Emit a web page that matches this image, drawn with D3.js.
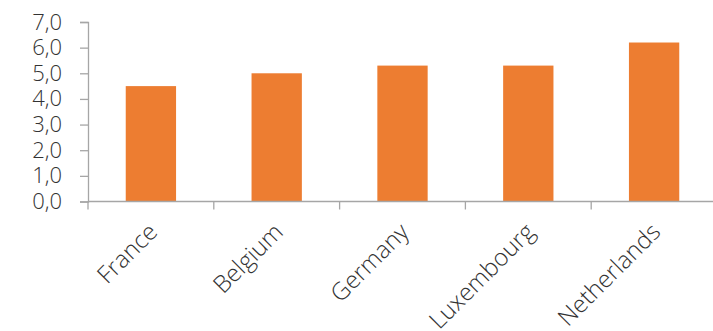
<!DOCTYPE html>
<html>
<head>
<meta charset="utf-8">
<script src="https://cdn.jsdelivr.net/npm/d3@7"></script>
<style>
  body { margin: 0; background: #fff; }
  text { font-family: "Open Sans", sans-serif; font-weight: 300; }
</style>
</head>
<body>
<svg></svg>
<script>
var width = 713,
    height = 331;

// data
var countries = ["France", "Belgium", "Germany", "Luxembourg", "Netherlands"];
var values = [4.5, 5.0, 5.3, 5.3, 6.2];
var yTicks = [0, 1, 2, 3, 4, 5, 6, 7];

var margin = { left: 88, top: 22, right: -4, bottom: 130 };

var svg = d3.select("svg")
    .attr("width", width)
    .attr("height", height);

var x = d3.scaleBand()
    .domain(countries)
    .range([margin.left, width - margin.right])
    .padding(0);

var y = d3.scaleLinear()
    .domain([0, 7])
    .range([height - margin.bottom + 0.5, margin.top]);

var fmt = function(d) { return d3.format(".1f")(d).replace(".", ","); };

// bars
svg.append("g")
  .selectAll("rect")
  .data(values)
  .enter().append("rect")
    .attr("x", function(d, i) { return x(countries[i]) + x.bandwidth() * 0.3; })
    .attr("width", x.bandwidth() * 0.4)
    .attr("y", function(d) { return y(d); })
    .attr("height", function(d) { return y(0) - y(d); })
    .attr("fill", "#ED7D31");

// y axis
var yAxis = svg.append("g")
    .attr("transform", "translate(" + margin.left + ",0)")
    .call(d3.axisLeft(y).tickValues(yTicks).tickFormat(fmt).tickSize(8).tickPadding(18).tickSizeOuter(8));
yAxis.selectAll("path, line").attr("stroke", "#a6a6a6").attr("stroke-width", 1.3);
yAxis.selectAll("text").style("font-size", "22px").attr("fill", "#333333");

// x axis
var xAxis = svg.append("g")
    .attr("transform", "translate(0," + y(0) + ")");
xAxis.append("line")
    .attr("x1", margin.left).attr("x2", width)
    .attr("stroke", "#a6a6a6").attr("stroke-width", 1.5);
xAxis.selectAll(".tk")
  .data(countries)
  .enter().append("line")
    .attr("class", "tk")
    .attr("x1", function(d) { return x(d); })
    .attr("x2", function(d) { return x(d); })
    .attr("y1", 0).attr("y2", 8)
    .attr("stroke", "#a6a6a6").attr("stroke-width", 1.3);
xAxis.selectAll("text")
  .data(countries)
  .enter().append("text")
    .attr("transform", function(d) {
      return "translate(" + (x(d) + x.bandwidth() / 2 - 4) + ",20) rotate(-45)";
    })
    .attr("text-anchor", "end")
    .attr("dy", "0.7em")
    .attr("fill", "#333333")
    .style("font-size", "24px")
    .text(function(d) { return d; });
</script>
</body>
</html>
